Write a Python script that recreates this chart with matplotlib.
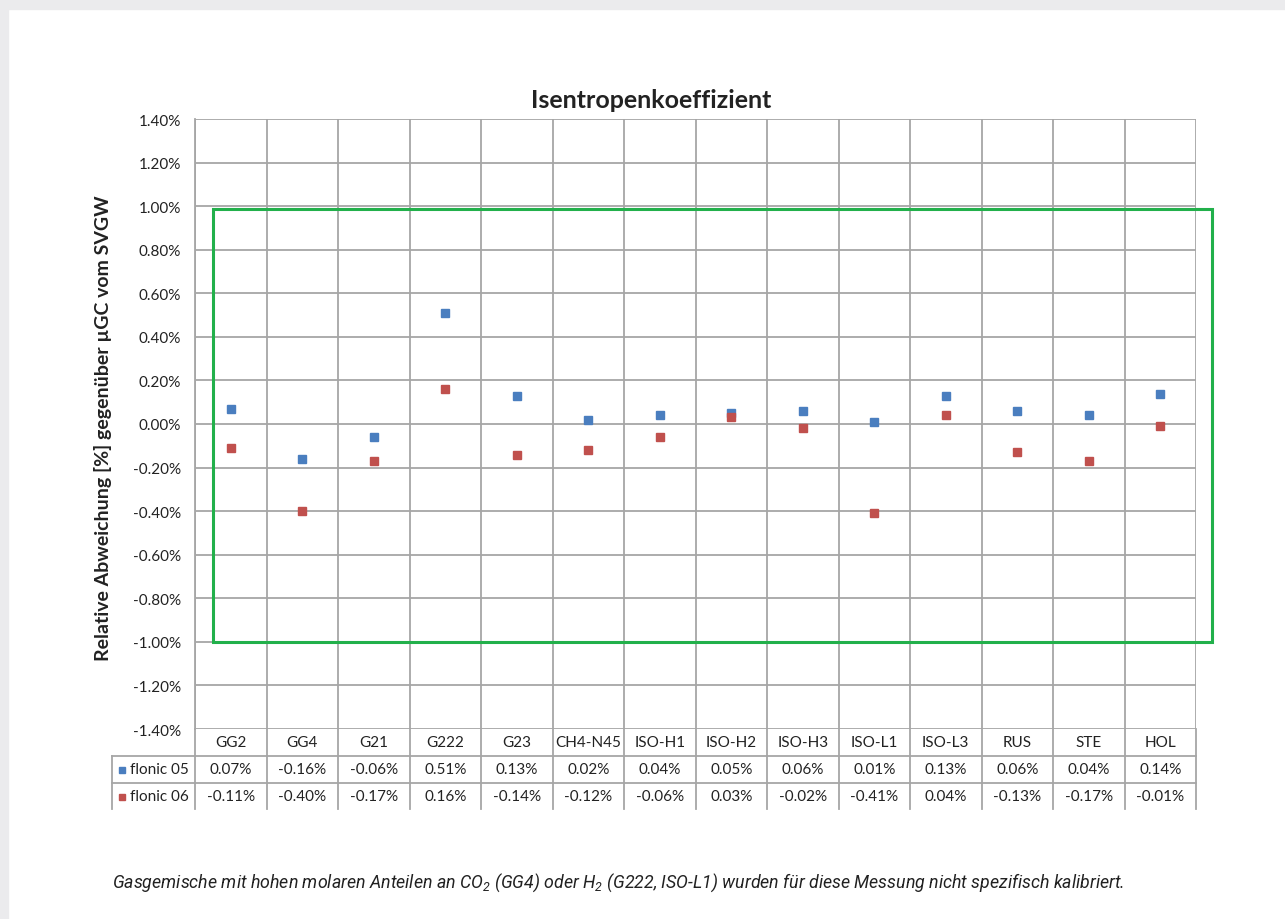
import numpy as np
import matplotlib
matplotlib.use("Agg")
import matplotlib.pyplot as plt
from matplotlib.patches import Rectangle
from matplotlib.lines import Line2D

categories = ["GG2", "GG4", "G21", "G222", "G23", "CH4-N45", "ISO-H1", "ISO-H2",
              "ISO-H3", "ISO-L1", "ISO-L3", "RUS", "STE", "HOL"]
flonic05 = [0.07, -0.16, -0.06, 0.51, 0.13, 0.02, 0.04, 0.05, 0.06, 0.01, 0.13, 0.06, 0.04, 0.14]
flonic06 = [-0.11, -0.40, -0.17, 0.16, -0.14, -0.12, -0.06, 0.03, -0.02, -0.41, 0.04, -0.13, -0.17, -0.01]
series_names = ["flonic 05", "flonic 06"]
y_ticks = [-1.4, -1.2, -1.0, -0.8, -0.6, -0.4, -0.2, 0.0, 0.2, 0.4, 0.6, 0.8, 1.0, 1.2, 1.4]

title = "Isentropenkoeffizient"
ylabel = "Relative Abweichung [%] gegenüber µGC vom SVGW"
footnote = (r"Gasgemische mit hohen molaren Anteilen an CO$_\mathregular{2}$ (GG4) oder "
            r"H$_\mathregular{2}$ (G222, ISO-L1) wurden für diese Messung nicht spezifisch kalibriert.")

BLUE = "#4a7ebf"
RED = "#c0504d"
GRID = "#a6a6a6"
GREEN = "#22b04b"
FONT = "Lato"

W, H = 1285, 920
fig = plt.figure(figsize=(W / 100, H / 100), dpi=100, facecolor="white")

# page frame
fig.patches.append(Rectangle((0, 1 - 10 / H), 1, 10 / H, transform=fig.transFigure,
                             color="#ebebed", zorder=0))
fig.patches.append(Rectangle((0, 0), 8 / W, 1, transform=fig.transFigure,
                             color="#ebebed", zorder=0))

L, R, T, B = 195, 1196, 120, 730
ax = fig.add_axes([L / W, (H - B) / H, (R - L) / W, (B - T) / H])
n = len(categories)
x = np.arange(n)
ax.set_xlim(-0.5, n - 0.5)
ax.set_ylim(-1.4, 1.4)

for s in ["top", "right", "bottom"]:
    ax.spines[s].set_visible(False)
ax.spines["left"].set_color(GRID)
ax.spines["left"].set_linewidth(1.3)

ax.set_yticks(y_ticks)
ax.set_yticklabels([f"{v:.2f}%" for v in y_ticks], fontsize=11, family=FONT, color="#222222")
ax.tick_params(axis="y", length=0, pad=10)
ax.set_xticks([])
ax.yaxis.grid(True, color=GRID, linewidth=1.3)
ax.set_axisbelow(True)

for b in np.arange(-0.5, n, 1.0):
    ax.axvline(b, color=GRID, linewidth=1.3, zorder=0.5)

ax.plot(x, flonic05, linestyle="none", marker="s", markersize=5.8, color=BLUE, zorder=3)
ax.plot(x, flonic06, linestyle="none", marker="s", markersize=5.8, color=RED, zorder=3)

# green highlight box
ax.add_patch(Rectangle((-0.25, -1.0), 13.72 + 0.25, 0.985 + 1.0, fill=False,
                       edgecolor=GREEN, linewidth=2.2, clip_on=False, zorder=4))

# data table
trans = ax.get_xaxis_transform()
ph = B - T
row_h = 27 / ph
left_x = -0.5 - (L - 112) / ((R - L) / n)
bottom_y = -(810 - B) / ph
for b in np.arange(-0.5, n, 1.0):
    ax.add_line(Line2D([b, b], [0, bottom_y], transform=trans, color=GRID,
                       linewidth=1.3, clip_on=False))
ax.add_line(Line2D([left_x, left_x], [-row_h, bottom_y], transform=trans, color=GRID,
                   linewidth=1.3, clip_on=False))
for k in (1, 2):
    ax.add_line(Line2D([left_x, n - 0.5], [-row_h * k, -row_h * k], transform=trans,
                       color=GRID, linewidth=1.3, clip_on=False))

tkw = dict(transform=trans, fontsize=11, family=FONT, color="#222222",
           va="center", ha="center", clip_on=False)
for i, c in enumerate(categories):
    ax.text(i, -row_h * 0.5, c, **tkw)
for r, (vals, col, name) in enumerate([(flonic05, BLUE, series_names[0]),
                                       (flonic06, RED, series_names[1])]):
    yy = -row_h * (r + 1.5)
    for i, v in enumerate(vals):
        ax.text(i, yy, f"{v:.2f}%", **tkw)
    ax.plot([left_x + 0.14], [yy], marker="s", markersize=5, color=col,
            transform=trans, clip_on=False)
    ax.text(left_x + 0.25, yy, name, transform=trans, fontsize=11, family=FONT,
            color="#222222", va="center", ha="left", clip_on=False)

fig.text(651 / W, 1 - 101 / H, title, fontsize=18, fontweight="bold", family=FONT,
         ha="center", va="center", color="#222222")
fig.text(103 / W, 1 - 428 / H, ylabel, fontsize=14, fontweight="bold", family=FONT,
         rotation=90, ha="center", va="center", color="#222222")
fig.text(112 / W, 1 - 883 / H, footnote, fontsize=12.8, style="italic", family="Roboto",
         ha="left", va="center", color="#222222")

fig.savefig("out.png", dpi=100, facecolor="white")
